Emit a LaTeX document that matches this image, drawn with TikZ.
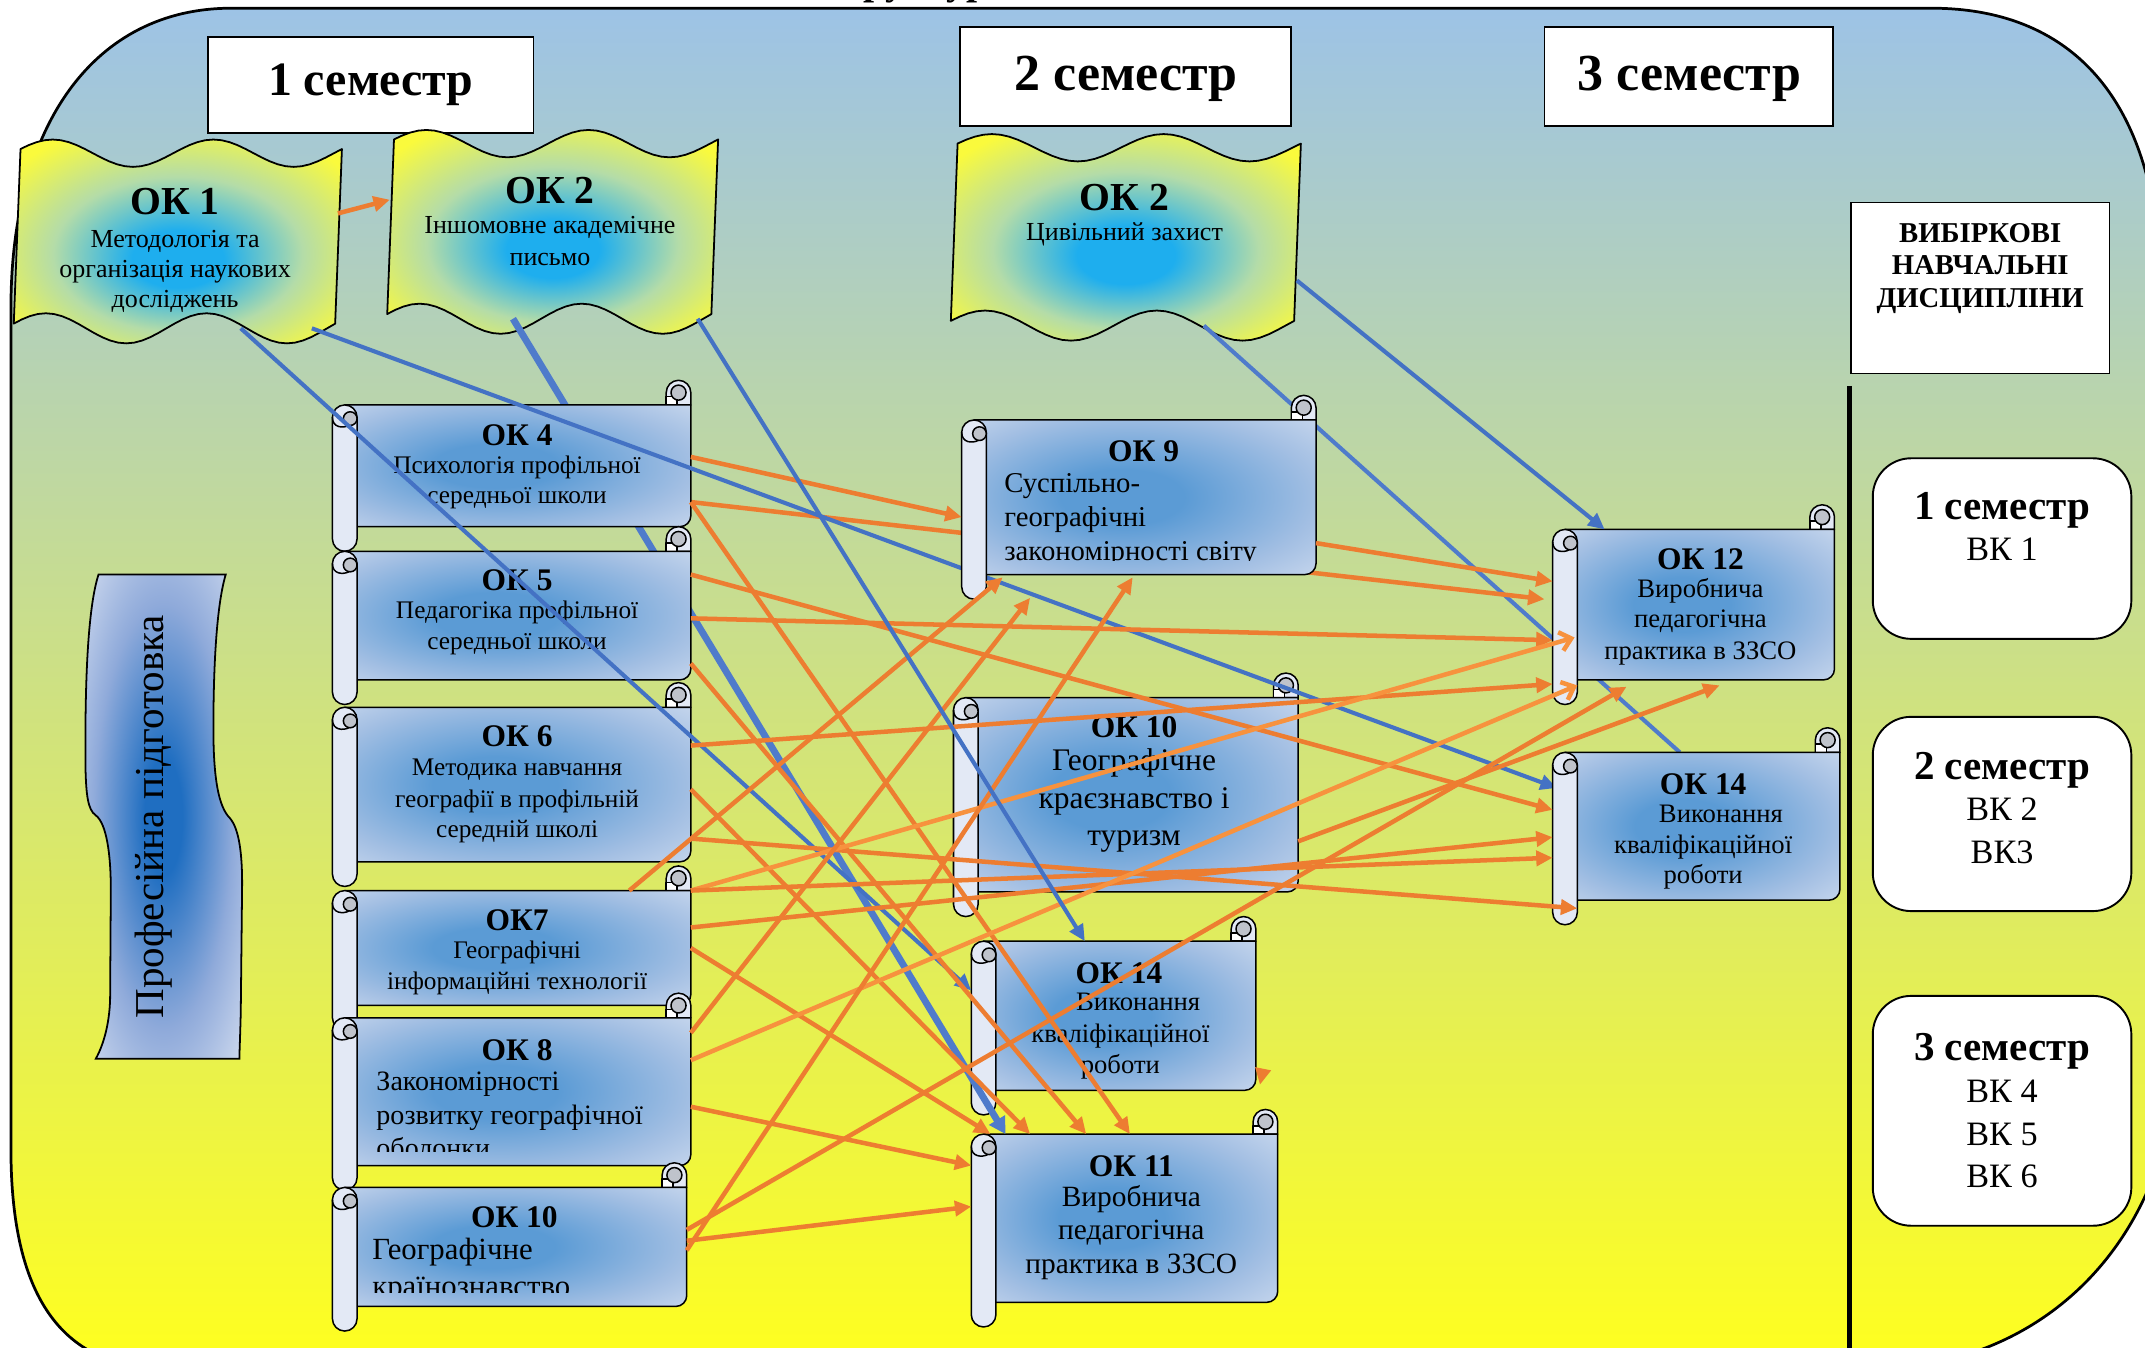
\documentclass[tikz,border=0pt]{standalone}
\usepackage{fontspec}
\setmainfont{Liberation Serif}
\usetikzlibrary{arrows.meta,calc}
\definecolor{bgT}{HTML}{9DC3E6}
\definecolor{bgM}{HTML}{CFDFB0}
\definecolor{bgB}{HTML}{FFFF1E}
\definecolor{orA}{HTML}{ED7D31}
\definecolor{orL}{HTML}{F7923E}
\definecolor{blA}{HTML}{4472C4}
\definecolor{blP}{HTML}{4F7BCB}
\definecolor{scB}{HTML}{5B9BD5}
\definecolor{scM}{HTML}{A3BFE3}
\definecolor{scL}{HTML}{E3E9F5}
\definecolor{scG}{HTML}{BFC3CB}
\definecolor{fB}{HTML}{1EAEEE}
\definecolor{fM}{HTML}{B4DCA8}
\definecolor{fY}{HTML}{FAFA3C}
\definecolor{rB}{HTML}{1F6EC1}
\definecolor{rM}{HTML}{8FAADA}
\pgfdeclareradialshading{scrollsh}{\pgfpoint{-4bp}{0bp}}{color(0bp)=(scB); color(9bp)=(scB); color(27bp)=(scM); color(45bp)=(scL); color(50bp)=(scL)}
\pgfdeclareradialshading{flagsh}{\pgfpoint{0bp}{-5bp}}{color(0bp)=(fB); color(7bp)=(fB); color(19bp)=(fM); color(32bp)=(fY); color(50bp)=(fY)}
\pgfdeclareradialshading{ribsh}{\pgfpoint{0bp}{0bp}}{color(0bp)=(rB); color(6bp)=(rB); color(22bp)=(rM); color(40bp)=(scL); color(50bp)=(scL)}
\newcounter{tcnt}
\newcommand\fsz[1]{\fontsize{#1}{#1}\selectfont}
\newcommand\tl[3][]{\stepcounter{tcnt}\node[tline,#1] (txt\arabic{tcnt}) at (#2) {#3};}
% scroll: name, L, T, R, B
\newcommand\scrollbox[5]{%
 \filldraw[scrl, fill=scL] ({#4-18},#3) -- ({#4-18},{#3-9}) arc[start angle=180,end angle=0,radius=9pt] -- (#4,#3) -- cycle;
 \filldraw[scrl, fill=white] ({#4-18},#3) rectangle ({#4-10},{#3-6});
 \filldraw[scrl, fill=scG] ({#4-9},{#3-9}) circle[radius=5.5pt];
 \shadedraw[scrl, shading=scrollsh] ({#2+9},#3) -- (#4,#3) -- (#4,{#5-8}) arc[start angle=0,end angle=-90,radius=8pt] -- ({#2+9},#5) -- cycle;
 \filldraw[scrl, fill=scL] (#2,{#3+9}) -- (#2,{#5+9}) arc[start angle=180,end angle=360,radius=9pt] -- ({#2+18},{#3+9}) arc[start angle=0,end angle=180,radius=9pt] -- cycle;
 \filldraw[scrl, fill=scG] ({#2+13},{#3+10}) circle[radius=5pt];
 \draw[scrl] (#2,{#3+9}) .. controls (#2,{#3+17}) and ({#2+8},{#3+17}) .. ({#2+12},{#3+15});
 \node[area, minimum width={(#4-#2)*1pt}, minimum height={(#5-#3)*1pt}] (#1) at ({(#2+#4)/2},{(#3+#5)/2}) {};
}
% flag: name, L, R, top mid, bottom mid
\newcommand\flagbox[5]{%
 \shadedraw[flagline, shading=flagsh] plot[domain=0:1,samples=41] ({#2+3+\x*(#3-#2)},{#4-10*cos(720*(\x-0.1))}) -- plot[domain=1:0,samples=41] ({#2-2+\x*(#3-#2)},{#5-11*cos(720*(\x-0.1))}) -- cycle;
 \node[area, minimum width={(#3-#2)*1pt}, minimum height={(#5-#4)*1pt}] (#1) at ({(#2+#3)/2},{(#4+#5)/2}) {};
}
\tikzset{
 scrl/.style={draw=black, line width=1.1pt, line join=round},
 flagline/.style={draw=black, line width=1.3pt, line join=round},
 area/.style={rectangle, draw=none, inner sep=0pt, outer sep=0pt},
 tline/.style={anchor=base, inner sep=0pt},
 hdr/.style={rectangle, draw=black, fill=white, line width=1.4pt, inner sep=0pt},
 vkbox/.style={rectangle, rounded corners=28pt, draw=black, fill=white, line width=1.4pt, inner sep=0pt},
 oarr/.style={draw=orA, line width=3.3pt, -{Triangle[length=12pt,width=11pt]}},
 larr/.style={draw=orL, line width=3.3pt, -{Straight Barb[length=8pt,width=14pt]}},
 barr/.style={draw=blA, line width=3pt, -{Triangle[length=12pt,width=11pt]}},
 pixarr/.style={draw=blP, line width=5pt, -{Triangle[length=12pt,width=13pt]}},
 thinb/.style={draw=blP, line width=3pt},
 lab/.style={font=\bfseries\fsz{23}},
}
\begin{document}
\begin{tikzpicture}[x=1pt,y=-1pt]
\useasboundingbox (0,0) rectangle (1568,985);
% background
\begin{scope}
\clip (0,0) rectangle (1568,985);
\fill[white] (0,0) rectangle (1568,985);
\shade[top color=bgT, middle color=bgM, bottom color=bgB, draw=black, line width=2pt]
 (169,6) -- (1412,6) .. controls (1495,6) and (1556,50) .. (1574,150) -- (1590,420) -- (1592,760)
 .. controls (1592,900) and (1500,995) .. (1380,1000) -- (110,1000)
 .. controls (40,995) and (8,940) .. (8,840) -- (8,225) .. controls (8,90) and (70,6) .. (169,6) -- cycle;
\node[anchor=base west, inner sep=0pt, font=\bfseries\fsz{29}] (title) at (596,-4) {Структура};
\end{scope}
% named end points
\coordinate (b2e) at (1138,576);
\coordinate (b5e) at (1228,550);
\coordinate (a2e) at (1129,438);
% headers
\node[hdr, minimum width=238pt, minimum height=70pt] (h1) at (271,62) {};
\node[hdr, minimum width=242pt, minimum height=72pt] (h2) at (823,56) {};
\node[hdr, minimum width=211pt, minimum height=72pt] (h3) at (1234.5,56) {};
\tl[font=\bfseries\fsz{35}]{271,70}{1 семестр}
\tl[font=\bfseries\fsz{38}]{823,66}{2 семестр}
\tl[font=\bfseries\fsz{38}]{1235,66}{3 семестр}
\node[hdr, minimum width=189pt, minimum height=125pt] (vib) at (1447.5,210.5) {};
\tl[font=\bfseries\fsz{21}]{1447.5,177}{ВИБІРКОВІ}
\tl[font=\bfseries\fsz{21}]{1447.5,201}{НАВЧАЛЬНІ}
\tl[font=\bfseries\fsz{21}]{1447.5,225}{ДИСЦИПЛІНИ}
\draw[line width=4pt] (1352,282) -- (1352,990);
\node[vkbox, minimum width=189pt, minimum height=132pt] (vk1) at (1463.5,401) {};
\node[vkbox, minimum width=189pt, minimum height=142pt] (vk2) at (1463.5,595) {};
\node[vkbox, minimum width=189pt, minimum height=168pt] (vk3) at (1463.5,812) {};
\tl[font=\bfseries\fsz{30}]{1463.5,380}{1 семестр}
\tl[font=\fsz{25}]{1463.5,410}{ВК 1}
\tl[font=\bfseries\fsz{30}]{1463.5,570}{2 семестр}
\tl[font=\fsz{25}]{1463.5,600}{ВК 2}
\tl[font=\fsz{25}]{1463.5,631}{ВК3}
\tl[font=\bfseries\fsz{30}]{1463.5,775}{3 семестр}
\tl[font=\fsz{25}]{1463.5,806}{ВК 4}
\tl[font=\fsz{25}]{1463.5,837}{ВК 5}
\tl[font=\fsz{25}]{1463.5,868}{ВК 6}
% flags
\flagbox{ok1}{12}{247}{112}{240}
\tl[font=\bfseries\fsz{29}]{128,157}{ОК 1}
\tl[font=\fsz{19}]{128,181}{Методологія та}
\tl[font=\fsz{19}]{128,203}{організація наукових}
\tl[font=\fsz{19}]{128,225}{досліджень}
\flagbox{ok2}{285}{522}{105}{233}
\tl[font=\bfseries\fsz{29}]{402,149}{ОК 2}
\tl[font=\fsz{19}]{402,171}{Іншомовне академічне}
\tl[font=\fsz{19}]{402,194}{письмо}
\flagbox{ok2c}{697}{948}{108}{238}
\tl[font=\bfseries\fsz{29}]{822,154}{ОК 2}
\tl[font=\fsz{19}]{822,176}{Цивільний захист}
% ribbon
\shadedraw[shading=ribsh, draw=black, line width=1.3pt] (72,420) -- (165,420) .. controls (159,440) and (156,480) .. (156,533) .. controls (156,570) and (160,590) .. (168,598) .. controls (175,606) and (177,625) .. (177,646) -- (176,740) .. controls (175.5,760) and (175,770) .. (175,774) -- (70,774) .. controls (75,765) and (80,750) .. (80.5,730) -- (81,650) .. controls (81,625) and (78,602) .. (70,596) .. controls (64,592) and (63,580) .. (62.5,562) .. controls (62,500) and (64,445) .. (72,420) -- cycle;
\node[rotate=90, inner sep=0pt, font=\fsz{30}] (prof) at (112,597) {Професійна підготовка};
% lines under the scrolls
\draw[thinb] (ok2c.south -| 880,0) -- (b5e);
\draw[oarr] (505,367) -- (a2e);
% middle lower scrolls
\scrollbox{ok10m}{697}{510}{949}{652}
\tl[lab]{829,539}{ОК 10}
\tl[font=\fsz{23}]{829,563}{Географічне}
\tl[font=\fsz{23}]{829,591}{краєзнавство і}
\tl[font=\fsz{23}]{829,618}{туризм}
\scrollbox{ok14m}{710}{688}{918}{797}
\tl[lab]{818,719}{ОК 14}
\tl[font=\fsz{19.5}]{832,739}{Виконання}
\tl[font=\fsz{19.5}]{819,762}{кваліфікаційної}
\tl[font=\fsz{19.5}]{819,785}{роботи}
\scrollbox{ok11}{710}{829}{934}{952}
\tl[lab]{827,860}{ОК 11}
\tl[font=\fsz{21.5}]{827,882}{Виробнича}
\tl[font=\fsz{21.5}]{827,906}{педагогічна}
\tl[font=\fsz{21.5}]{827,931}{практика в ЗЗСО}
% pixelated blue line
\draw[pixarr] (ok2.south -| 375,0) -- (ok11.north -| 735,0);
% left column
\scrollbox{ok4}{243}{296}{505}{385}
\tl[lab]{378,326}{ОК 4}
\tl[font=\fsz{18.5}]{378,346}{Психологія профільної}
\tl[font=\fsz{18.5}]{378,368}{середньої школи}
\scrollbox{ok5}{243}{403}{505}{497}
\tl[lab]{378,432}{ОК 5}
\tl[font=\fsz{18.5}]{378,452}{Педагогіка профільної}
\tl[font=\fsz{18.5}]{378,475}{середньої школи}
\scrollbox{ok6}{243}{517}{505}{630}
\tl[lab]{378,546}{ОК 6}
\tl[font=\fsz{18.5}]{378,567}{Методика навчання}
\tl[font=\fsz{18.5}]{378,590}{географії в профільній}
\tl[font=\fsz{18.5}]{378,612}{середній школі}
\scrollbox{ok7}{243}{651}{505}{735}
\tl[lab]{378,680}{ОК7}
\tl[font=\fsz{18.5}]{378,701}{Географічні}
\tl[font=\fsz{18.5}]{378,723}{інформаційні технології}
\scrollbox{ok8}{243}{744}{505}{852}
\tl[lab]{378,775}{ОК 8}
\begin{scope}
\clip (261,744) rectangle (505,842);
\tl[anchor=base west, font=\fsz{20.5}]{275,797}{Закономірності}
\tl[anchor=base west, font=\fsz{20.5}]{275,822}{розвитку географічної}
\tl[anchor=base west, font=\fsz{20.5}]{275,846}{оболонки}
\end{scope}
\scrollbox{ok10l}{243}{868}{502}{955}
\tl[lab]{376,897}{ОК 10}
\begin{scope}
\clip (261,868) rectangle (502,945);
\tl[anchor=base west, font=\fsz{22.5}]{272,921}{Географічне}
\tl[anchor=base west, font=\fsz{22.5}]{272,948}{країнознавство}
\end{scope}
% blue lines over left column
\draw[barr] (ok1.south -| 176,0) -- (ok14m.west |- 0,724);
\draw[barr] (ok1.south -| 228,0) -- (b2e);
% upper right scrolls
\scrollbox{ok9}{703}{307}{962}{420}
\tl[lab]{836,337}{ОК 9}
\begin{scope}
\clip (721,307) rectangle (962,410);
\tl[anchor=base west, font=\fsz{21}]{734,360}{Суспільно-}
\tl[anchor=base west, font=\fsz{21}]{734,385}{географічні}
\tl[anchor=base west, font=\fsz{21}]{734,410}{закономірності світу}
\end{scope}
\scrollbox{ok12}{1135}{387}{1341}{497}
\tl[lab]{1243,416}{ОК 12}
\tl[font=\fsz{19.5}]{1243,437}{Виробнича}
\tl[font=\fsz{19.5}]{1243,459}{педагогічна}
\tl[font=\fsz{19.5}]{1243,482}{практика в ЗЗСО}
\scrollbox{ok14r}{1135}{550}{1345}{658}
\tl[lab]{1245,581}{ОК 14}
\tl[font=\fsz{19.5}]{1258,601}{Виконання}
\tl[font=\fsz{19.5}]{1245,624}{кваліфікаційної}
\tl[font=\fsz{19.5}]{1245,646}{роботи}
% orange connectors
\draw[oarr] (ok1.east |- 0,156) -- (ok2.west |- 0,146);
\draw[oarr] (ok4.east |- 0,334) -- (ok9.west |- 0,378);
\draw[oarr] (ok4.east |- 0,367) -- (ok11.north -| 826,0);
\draw[oarr] (ok5.east |- 0,420) -- (ok14r.west |- 0,592);
\draw[oarr] (ok5.east |- 0,452) -- (ok12.west |- 0,468);
\draw[oarr] (ok5.east |- 0,485) -- (ok11.north -| 794,0);
\draw[oarr] (ok6.east |- 0,545) -- (ok12.west |- 0,500);
\draw[oarr] (ok6.east |- 0,577) -- (ok11.north -| 753,0);
\draw[oarr] (ok6.east |- 0,613) -- ($(ok14r.south west)+(18,6)$);
\draw[oarr] (ok7.north -| 460,0) -- ($(ok9.south -| 733,0)+(0,2)$);
\draw[larr] (ok7.north east) -- ($(ok12.west)+(16,24)$);
\draw[oarr] (ok7.north east) -- (ok14r.west |- 0,627);
\draw[oarr] (ok7.east |- 0,678) -- (ok14r.west |- 0,612);
\draw[oarr] (ok7.east |- 0,693) -- (ok11.north -| 724,0);
\draw[oarr] (ok8.east |- 0,755) -- ($(ok9.south -| 753,0)+(0,17)$);
\draw[larr] (ok8.east |- 0,775) -- ($(ok12.south west)+(18,4)$);
\draw[oarr] (ok8.east |- 0,809) -- (ok11.west |- 0,852);
\draw[oarr] (ok10l.east |- 0,899) -- ($(ok12.south -| 1189,0)+(0,5)$);
\draw[oarr] (ok10l.east |- 0,907) -- (ok11.west |- 0,882);
\draw[oarr] (ok10l.east |- 0,914) -- ($(ok9.south -| 828,0)+(0,2)$);
\draw[oarr] (ok9.east |- 0,397) -- (ok12.west |- 0,425);
\draw[oarr] (ok10m.east |- 0,615) -- ($(ok12.south -| 1257,0)+(0,4)$);
\draw[oarr] ($(ok14m.south east)+(5,-14)$) -- ($(ok14m.south east)+(3,-4)$);
% blue connectors on top
\draw[barr] (ok2.south -| 510,0) -- (ok14m.north -| 793,0);
\draw[barr] (ok2c.east |- 0,205) -- (ok12.north -| 1173,0);
\end{tikzpicture}
\end{document}
